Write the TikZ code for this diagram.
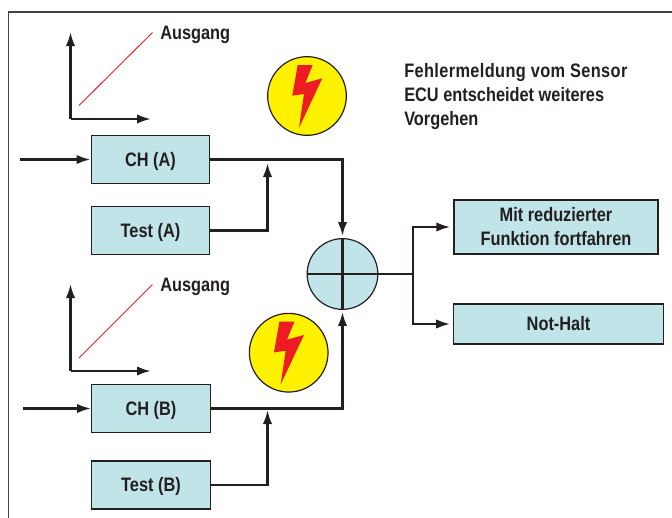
\documentclass[tikz,border=0pt]{standalone}
\usepackage{fontspec}
\setmainfont[FakeStretch=0.84]{Liberation Sans}
\usepackage{tikz}
\usetikzlibrary{arrows.meta,positioning,calc}
\definecolor{boxblue}{RGB}{193,228,233}
\definecolor{darkline}{RGB}{35,31,32}
\definecolor{boltred}{RGB}{237,28,36}
\definecolor{boltyellow}{RGB}{255,242,0}
\tikzset{
    chbox/.style={
        draw=darkline,
        line width=0.9pt,
        align=center,
        inner sep=0pt,
        minimum width=89pt,
        minimum height=36pt,
        fill=boxblue,
        text=darkline,
        text height=12pt,
        text depth=2pt,
        font=\bfseries\fontsize{14.6}{18}\selectfont
    },
    flow/.style={-{Latex[length=10.5pt,width=7pt]}, line width=1.8pt, draw=darkline},
    wire/.style={line width=1.8pt, draw=darkline},
    lbl/.style={align=left, inner sep=0pt, text=darkline, font=\bfseries\fontsize{14.6}{18}\selectfont},
    warn/.style={circle, draw=darkline, line width=0.9pt, fill=boltyellow, minimum size=59pt, inner sep=0pt}
}
\newcommand{\bolt}[1]{\fill[boltred] ($(#1)+(-9.3,-31)$) -- ($(#1)+(5.7,-31)$) -- ($(#1)+(-1.7,-13)$) -- ($(#1)+(15.3,-17.7)$) -- ($(#1)+(-8,31.7)$) -- ($(#1)+(-3,-2)$) -- ($(#1)+(-14.7,-0.3)$) -- cycle;}

\begin{document}
\begin{tikzpicture}[x=0.75pt,y=-0.75pt]
        \useasboundingbox (0,0) rectangle (672,518);
        \draw[line width=0.9pt, draw=darkline!85] (8.5,518) -- (8.5,12) -- (672,12);

        % channel A
        \node[chbox] (chA) at (150.5,159.5) {CH (A)};
        \node[chbox] (testA) at (150.5,230.5) {Test (A)};
        \node[warn] (warnA) at (307,96) {};
        \bolt{warnA}
        \node[lbl, anchor=west] (outA) at (160,35) {Ausgang};
        \coordinate (originA) at (70.5,119);
        \coordinate (yA) at (70.5,32);
        \coordinate (xA) at (151,119);
        \coordinate (inA) at (20,159.5);
        \coordinate (joinA) at (267.5,163);
        \draw[flow] (originA) -- (yA);
        \draw[flow] (originA) -- (xA);
        \draw[boltred, line width=0.7pt] (79,105.5) -- (152.5,32.5);
        \draw[flow] (inA) -- (chA.west);

        % channel B
        \node[chbox] (chB) at (151,408.5) {CH (B)};
        \node[chbox] (testB) at (151,485) {Test (B)};
        \node[warn] (warnB) at (288.7,352.7) {};
        \bolt{warnB}
        \node[lbl, anchor=west] (outB) at (160,287) {Ausgang};
        \coordinate (originB) at (70.5,371);
        \coordinate (yB) at (70.5,284);
        \coordinate (xB) at (151,371);
        \coordinate (inB) at (23,408.5);
        \coordinate (joinB) at (267.5,410);
        \draw[flow] (originB) -- (yB);
        \draw[flow] (originB) -- (xB);
        \draw[boltred, line width=0.7pt] (79,358) -- (152.5,284.5);
        \draw[flow] (inB) -- (chB.west);

        % mixing point
        \node[circle, draw=darkline, line width=0.9pt, fill=boxblue, minimum size=53pt, inner sep=0pt] (mix) at (342.5,274) {};
        \draw[wire] (mix.north) -- (mix.south);
        \draw[wire] (mix.west) -- (mix.east);

        \draw[flow] (chA.east) -| ($(mix.north)+(0,-2)$);
        \draw[flow] (testA.east) -| (joinA);
        \draw[flow] (chB.east) -| ($(mix.south)+(0,2)$);
        \draw[flow] (testB.east) -| (joinB);

        % outcome
        \node[chbox, text height=, text depth=, minimum width=153pt, minimum height=40.5pt] (goon) at (556,227) {Mit reduzierter\\Funktion fortfahren};
        \node[chbox, minimum width=157pt, minimum height=30pt] (stop) at (558.5,324) {Not-Halt};
        \coordinate (fork) at (413,274);
        \draw[wire] (mix.east) -- (fork);
        \draw[flow] (fork) |- ($(goon.west)+(-3,0)$);
        \draw[flow] (fork) |- ($(stop.west)+(-3,0)$);

        \node[lbl, anchor=north west] (msg) at (404,63) {\addfontfeatures{LetterSpace=1.9}Fehlermeldung vom Sensor\\ECU entscheidet weiteres\\Vorgehen};
    \end{tikzpicture}
\end{document}
